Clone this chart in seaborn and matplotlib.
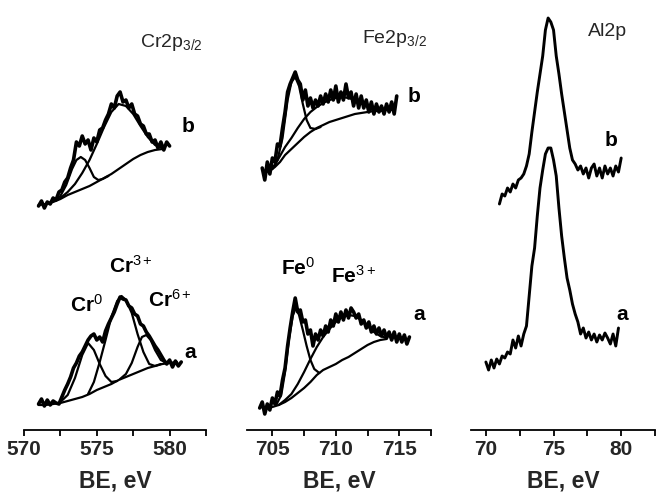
import numpy as np
import matplotlib
matplotlib.use("Agg")
import matplotlib.pyplot as plt
import seaborn as sns

sns.set_theme(style="white")
plt.rcParams["font.family"] = ["Liberation Sans", "DejaVu Sans"]
plt.rcParams["mathtext.fontset"] = "custom"
plt.rcParams["mathtext.rm"] = "Liberation Sans"
plt.rcParams["mathtext.it"] = "Liberation Sans"
plt.rcParams["mathtext.bf"] = "Liberation Sans:bold"

# ---------------- Cr2p3/2 ----------------
cr_b_range = (571.0, 580.0)
cr_b = [224, 229, 222, 228, 226, 232, 230, 238, 240, 248,
        252, 262, 270, 288, 284, 294, 286, 290, 280, 292,
        288, 300, 302, 310, 316, 326, 322, 334, 338, 328,
        330, 322, 326, 316, 314, 306, 304, 296, 296, 288,
        290, 282, 288, 280, 288, 284]
cr_b_bg_e = [571.0, 571.5, 572.0, 572.5, 573.0, 573.5, 574.0, 574.5, 575.0,
             575.5, 576.0, 576.5, 577.0, 577.5, 578.0, 578.5, 579.0, 579.5]
cr_b_bg = [225, 226, 228, 231, 235, 238, 241, 244, 248,
           252, 256, 261, 266, 271, 275, 278, 280, 281]
cr_b_p0_e = [572.0, 572.5, 572.9, 573.3, 573.6, 573.9, 574.2, 574.5, 574.8, 575.1, 575.4, 575.8]
cr_b_p0 = [229, 234, 245, 261, 270, 273, 270, 262, 253, 250, 251, 254]
cr_b_p3_e = [572.0, 572.5, 573.0, 573.5, 574.0, 574.5, 575.0, 575.5, 576.0,
             576.5, 577.0, 577.5, 578.0, 578.5, 579.0, 579.5]
cr_b_p3 = [229, 232, 238, 246, 257, 270, 286, 303, 318,
           326, 324, 316, 304, 293, 285, 282]

cr_a_range = (571.0, 580.8)
cr_a = [26, 31, 24, 30, 25, 29, 27, 26, 33, 40,
        46, 53, 62, 67, 74, 78, 84, 90, 94, 96,
        90, 93, 88, 99, 106, 112, 118, 126, 133, 131,
        130, 124, 122, 116, 114, 106, 104, 98, 94, 89,
        84, 80, 75, 70, 66, 70, 63, 69, 64, 68]
cr_a_bg_e = [571.0, 571.5, 572.0, 572.5, 573.0, 573.5, 574.0, 574.5, 575.0, 575.5,
             576.0, 576.5, 577.0, 577.5, 578.0, 578.5, 579.0, 579.5, 580.0, 580.5]
cr_a_bg = [25, 25, 26, 27, 29, 31, 33, 36, 40, 43,
           46, 50, 53, 56, 59, 62, 64, 66, 67, 68]
cr_a_p0_e = [572.5, 573.0, 573.5, 574.0, 574.4, 574.8, 575.2, 575.6, 576.0, 576.4]
cr_a_p0 = [28, 35, 52, 75, 87, 80, 66, 54, 48, 49]
cr_a_p3_e = [574.4, 574.8, 575.2, 575.6, 576.0, 576.4, 576.7, 577.0, 577.4,
             577.8, 578.2, 578.6, 579.0, 579.4]
cr_a_p3 = [36, 48, 68, 90, 113, 129, 134, 130, 117, 96, 78, 66, 64, 66]
cr_a_p6_e = [576.6, 577.0, 577.4, 577.8, 578.1, 578.4, 578.7, 579.0, 579.4, 579.8]
cr_a_p6 = [51, 56, 67, 83, 93, 95, 90, 80, 70, 67]

# ---------------- Fe2p3/2 ----------------
fe_b_range = (704.2, 714.8)
fe_b = [262, 250, 268, 256,
        272, 268, 286, 284, 302,
        318, 338, 346, 352, 358,
        350, 346, 330, 340, 324,
        332, 322, 330, 324, 334,
        326, 336, 328, 340, 330,
        344, 328, 338, 330, 346,
        332, 338, 324, 336, 322,
        334, 322, 330, 318, 328,
        316, 326, 318, 324, 316,
        326, 318, 328, 316, 334]
fe_b_bg_e = [704.3, 704.8, 705.2, 705.6, 706.0, 706.5, 707.0, 707.5, 708.0, 708.5, 709.0,
             709.5, 710.0, 710.5, 711.0, 711.5, 712.0, 712.5, 713.0, 713.5, 714.0, 714.5]
fe_b_bg = [258, 259, 263, 268, 275, 281, 287, 293, 298, 302, 305,
           308, 310, 312, 314, 316, 317, 318, 319, 319, 320, 320]
fe_b_p0_e = [705.0, 705.4, 705.8, 706.2, 706.5, 706.8, 707.1, 707.4, 707.7, 708.0, 708.4, 708.8]
fe_b_p0 = [261, 270, 292, 330, 348, 353, 344, 326, 310, 302, 301, 303]
fe_b_p3_e = [704.8, 705.2, 705.6, 706.0, 706.5, 707.0, 707.5, 708.0, 708.5, 709.0,
             709.5, 710.0, 710.5, 711.0, 711.5, 712.0, 712.5, 713.0, 713.5]
fe_b_p3 = [260, 265, 274, 283, 292, 302, 311, 318, 323, 327,
           330, 332, 333, 332, 330, 327, 323, 321, 320]

fe_a_range = (704.0, 715.8)
fe_a = [22, 28, 16, 26, 20,
        32, 26, 38, 34, 50,
        62, 84, 102, 118, 132,
        118, 120, 108, 110, 96,
        100, 84, 96, 90, 100,
        94, 104, 98, 110, 104,
        116, 108, 118, 110, 120,
        112, 122, 118, 112, 116,
        106, 110, 102, 108, 98,
        104, 96, 102, 94, 100,
        92, 98, 90, 98, 88,
        96, 88, 95, 86, 93]
fe_a_bg_e = [704.5, 705.0, 705.5, 706.0, 706.5, 707.0, 707.5, 708.0, 708.5, 709.0,
             709.5, 710.0, 710.5, 711.0, 711.5, 712.0, 712.5, 713.0, 713.5, 714.0]
fe_a_bg = [22, 23, 25, 28, 32, 37, 42, 48, 55, 60,
           63, 66, 70, 73, 77, 81, 85, 88, 90, 91]
fe_a_p0_e = [705.3, 705.7, 706.0, 706.3, 706.6, 706.85, 707.1, 707.4, 707.7, 708.0, 708.3, 708.7]
fe_a_p0 = [25, 35, 58, 90, 114, 122, 115, 100, 84, 70, 61, 57]
fe_a_p3_e = [705.5, 706.0, 706.5, 707.0, 707.5, 708.0, 708.5, 709.0, 709.5,
             710.0, 710.5, 711.0, 711.5, 712.0, 712.5, 713.0, 713.5, 714.0]
fe_a_p3 = [25, 30, 36, 46, 58, 71, 83, 93, 101,
           108, 113, 115, 114, 110, 104, 98, 94, 92]

# ---------------- Al2p ----------------
al_b_range = (71.0, 80.0)
al_b = [226, 236, 234, 242, 238, 246, 242, 250, 252, 256,
        264, 276, 298, 318, 338, 356, 374, 400, 412, 408,
        400, 374, 356, 336, 318, 300, 282, 270, 266, 260,
        264, 256, 262, 252, 262, 266, 254, 262, 252, 264,
        256, 262, 254, 264, 258, 272]
al_a_range = (70.0, 79.8)
al_a = [68, 60, 70, 62, 71, 66, 74, 72, 78, 76,
        90, 82, 94, 84, 96, 104, 134, 164, 182, 214,
        242, 260, 276, 282, 282, 270, 254, 222, 194, 172,
        152, 140, 126, 116, 108, 96, 102, 92, 98, 90,
        96, 88, 95, 90, 97, 92, 86, 96, 84, 102]

xlims = [(570.0, 582.5), (703.0, 716.8), (68.9, 81.1)]
ticks = [[570, 575, 580], [705, 710, 715], [70, 75, 80]]

W, H = 656, 493
fig = plt.figure(figsize=(W / 100, H / 100), dpi=100)
axes = [fig.add_axes([24 / W, 63 / H, 182 / W, 430 / H]),
        fig.add_axes([247 / W, 63 / H, 184 / W, 430 / H]),
        fig.add_axes([471 / W, 63 / H, 184 / W, 430 / H])]

DATA_LW = 2.6
COMP_LW = 1.6


def spectrum(ax, rng, vals, lw=DATA_LW):
    e = np.linspace(rng[0], rng[1], len(vals))
    sns.lineplot(x=e, y=vals, ax=ax, color="black", lw=lw, sort=False,
                 estimator=None, legend=False)


def comp(ax, e, vals, lw=COMP_LW):
    sns.lineplot(x=e, y=vals, ax=ax, color="black", lw=lw, sort=False,
                 estimator=None, legend=False)


ax1, ax2, ax3 = axes
# Cr
spectrum(ax1, cr_b_range, cr_b)
comp(ax1, cr_b_bg_e, cr_b_bg)
comp(ax1, cr_b_p0_e, cr_b_p0)
comp(ax1, cr_b_p3_e, cr_b_p3)
spectrum(ax1, cr_a_range, cr_a)
comp(ax1, cr_a_bg_e, cr_a_bg)
comp(ax1, cr_a_p0_e, cr_a_p0)
comp(ax1, cr_a_p3_e, cr_a_p3)
comp(ax1, cr_a_p6_e, cr_a_p6)
# Fe
spectrum(ax2, fe_b_range, fe_b)
comp(ax2, fe_b_bg_e, fe_b_bg)
comp(ax2, fe_b_p0_e, fe_b_p0)
comp(ax2, fe_b_p3_e, fe_b_p3)
spectrum(ax2, fe_a_range, fe_a)
comp(ax2, fe_a_bg_e, fe_a_bg)
comp(ax2, fe_a_p0_e, fe_a_p0)
comp(ax2, fe_a_p3_e, fe_a_p3)
# Al
spectrum(ax3, al_b_range, al_b, lw=2.1)
spectrum(ax3, al_a_range, al_a, lw=2.1)

for ax, xl, tk in zip(axes, xlims, ticks):
    ax.set_xlim(*xl)
    ax.set_ylim(0, 430)
    ax.set_facecolor("none")
    for s in ("left", "right", "top"):
        ax.spines[s].set_visible(False)
    ax.spines["bottom"].set_color("black")
    ax.spines["bottom"].set_linewidth(1.3)
    ax.set_yticks([])
    ax.set_xticks(tk)
    ax.set_xticks([t + 2.5 for t in tk[:-1]] + [tk[-1] + 2.5], minor=True)
    ax.tick_params(axis="x", which="both", direction="out", length=4, width=1.3,
                   color="black", bottom=True, pad=3.5)
    ax.tick_params(axis="x", which="major", labelsize=15)
    for lab in ax.get_xticklabels():
        lab.set_fontweight("bold")
    ax.set_xlabel("BE, eV", fontsize=16.5, fontweight="bold", labelpad=7)
    ax.set_ylabel("")

bold = dict(fontsize=15, fontweight="bold", ha="center", va="center", color="black")
# titles
ax1.text(578.0, 383, r"Cr2p$_{3/2}$", fontsize=14, ha="left", va="baseline")
ax2.text(712.1, 387, r"Fe2p$_{3/2}$", fontsize=14, ha="left", va="baseline")
ax3.text(77.55, 394, "Al2p", fontsize=14, ha="left", va="baseline")
# labels
ax1.text(581.25, 303, "b", **bold)
ax1.text(581.4, 77, "a", **bold)
ax1.text(577.35, 164, r"Cr$^{3+}$", **bold)
ax1.text(574.26, 125, r"Cr$^{0}$", **bold)
ax1.text(580.0, 130, r"Cr$^{6+}$", **bold)
ax2.text(716.2, 333, "b", **bold)
ax2.text(716.55, 115, "a", **bold)
ax2.text(707.0, 162, r"Fe$^{0}$", **bold)
ax2.text(711.4, 154, r"Fe$^{3+}$", **bold)
ax3.text(79.27, 290, "b", **bold)
ax3.text(80.05, 115, "a", **bold)

fig.savefig("out.png", dpi=100)
